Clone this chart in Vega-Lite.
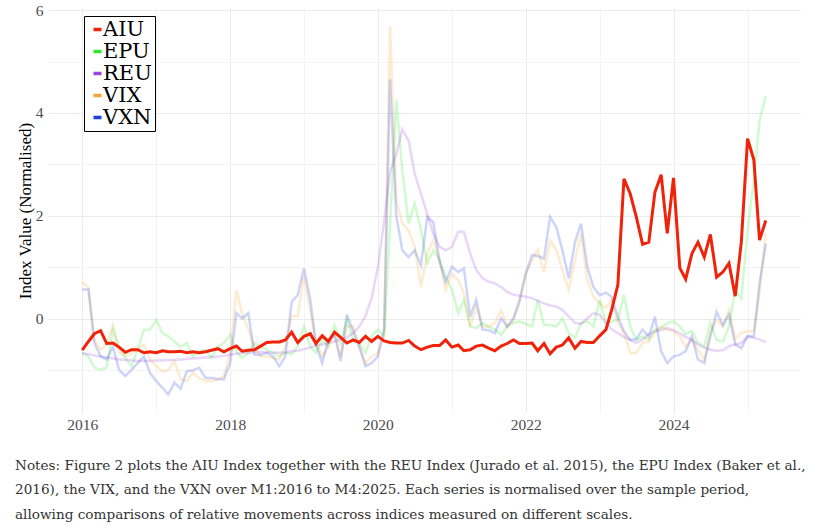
{
  "$schema": "https://vega.github.io/schema/vega-lite/v6.json",
  "width": 752,
  "height": 405,
  "autosize": "none",
  "padding": {"left": 48, "top": 8, "right": 21, "bottom": 118},
  "background": "white",
  "title": {
    "text": [
      "Notes: Figure 2 plots the AIU Index together with the REU Index (Jurado et al. 2015), the EPU Index (Baker et al.,",
      "2016), the VIX, and the VXN over M1:2016 to M4:2025. Each series is normalised over the sample period,",
      "allowing comparisons of relative movements across indices measured on different scales."
    ],
    "orient": "bottom",
    "anchor": "start",
    "frame": "group",
    "dx": -33,
    "offset": 26,
    "font": "DejaVu Serif",
    "fontSize": 13.6,
    "fontWeight": "normal",
    "color": "#333333",
    "lineHeight": 24.5
  },
  "data": {
    "values": [
      {"date": "2016-01-01", "AIU": -0.61, "EPU": -0.66, "REU": -0.67, "VIX": 0.72, "VXN": 0.57},
      {"date": "2016-02-01", "AIU": -0.44, "EPU": -0.73, "REU": -0.69, "VIX": 0.60, "VXN": 0.57},
      {"date": "2016-03-01", "AIU": -0.29, "EPU": -0.95, "REU": -0.71, "VIX": -0.41, "VXN": -0.47},
      {"date": "2016-04-01", "AIU": -0.23, "EPU": -0.99, "REU": -0.73, "VIX": -0.60, "VXN": -0.73},
      {"date": "2016-05-01", "AIU": -0.48, "EPU": -0.95, "REU": -0.75, "VIX": -0.50, "VXN": -0.79},
      {"date": "2016-06-01", "AIU": -0.47, "EPU": -0.21, "REU": -0.77, "VIX": -0.12, "VXN": -0.54},
      {"date": "2016-07-01", "AIU": -0.55, "EPU": -0.54, "REU": -0.79, "VIX": -0.64, "VXN": -0.99},
      {"date": "2016-08-01", "AIU": -0.65, "EPU": -0.76, "REU": -0.80, "VIX": -0.73, "VXN": -1.11},
      {"date": "2016-09-01", "AIU": -0.60, "EPU": -0.92, "REU": -0.81, "VIX": -0.67, "VXN": -0.99},
      {"date": "2016-10-01", "AIU": -0.60, "EPU": -0.60, "REU": -0.82, "VIX": -0.58, "VXN": -0.86},
      {"date": "2016-11-01", "AIU": -0.66, "EPU": -0.21, "REU": -0.82, "VIX": -0.50, "VXN": -0.73},
      {"date": "2016-12-01", "AIU": -0.64, "EPU": -0.21, "REU": -0.82, "VIX": -0.79, "VXN": -1.05},
      {"date": "2017-01-01", "AIU": -0.66, "EPU": -0.02, "REU": -0.81, "VIX": -0.92, "VXN": -1.21},
      {"date": "2017-02-01", "AIU": -0.62, "EPU": -0.28, "REU": -0.81, "VIX": -1.02, "VXN": -1.34},
      {"date": "2017-03-01", "AIU": -0.64, "EPU": -0.34, "REU": -0.80, "VIX": -1.00, "VXN": -1.47},
      {"date": "2017-04-01", "AIU": -0.64, "EPU": -0.44, "REU": -0.80, "VIX": -0.82, "VXN": -1.24},
      {"date": "2017-05-01", "AIU": -0.63, "EPU": -0.54, "REU": -0.79, "VIX": -1.17, "VXN": -1.36},
      {"date": "2017-06-01", "AIU": -0.66, "EPU": -0.47, "REU": -0.78, "VIX": -1.21, "VXN": -1.02},
      {"date": "2017-07-01", "AIU": -0.64, "EPU": -0.73, "REU": -0.77, "VIX": -1.05, "VXN": -1.00},
      {"date": "2017-08-01", "AIU": -0.66, "EPU": -0.63, "REU": -0.76, "VIX": -1.15, "VXN": -0.95},
      {"date": "2017-09-01", "AIU": -0.64, "EPU": -0.60, "REU": -0.75, "VIX": -1.21, "VXN": -1.15},
      {"date": "2017-10-01", "AIU": -0.61, "EPU": -0.76, "REU": -0.74, "VIX": -1.21, "VXN": -1.15},
      {"date": "2017-11-01", "AIU": -0.58, "EPU": -0.54, "REU": -0.73, "VIX": -1.18, "VXN": -1.17},
      {"date": "2017-12-01", "AIU": -0.64, "EPU": -0.47, "REU": -0.72, "VIX": -1.11, "VXN": -1.18},
      {"date": "2018-01-01", "AIU": -0.58, "EPU": -0.31, "REU": -0.70, "VIX": -0.64, "VXN": -0.86},
      {"date": "2018-02-01", "AIU": -0.53, "EPU": -0.64, "REU": -0.68, "VIX": 0.56, "VXN": 0.11},
      {"date": "2018-03-01", "AIU": -0.63, "EPU": -0.76, "REU": -0.67, "VIX": 0.11, "VXN": 0.01},
      {"date": "2018-04-01", "AIU": -0.61, "EPU": -0.66, "REU": -0.66, "VIX": -0.21, "VXN": 0.11},
      {"date": "2018-05-01", "AIU": -0.60, "EPU": -0.47, "REU": -0.65, "VIX": -0.54, "VXN": -0.70},
      {"date": "2018-06-01", "AIU": -0.53, "EPU": -0.54, "REU": -0.65, "VIX": -0.73, "VXN": -0.70},
      {"date": "2018-07-01", "AIU": -0.46, "EPU": -0.60, "REU": -0.65, "VIX": -0.73, "VXN": -0.66},
      {"date": "2018-08-01", "AIU": -0.45, "EPU": -0.66, "REU": -0.66, "VIX": -0.76, "VXN": -0.73},
      {"date": "2018-09-01", "AIU": -0.45, "EPU": -0.73, "REU": -0.66, "VIX": -0.79, "VXN": -0.92},
      {"date": "2018-10-01", "AIU": -0.41, "EPU": -0.66, "REU": -0.65, "VIX": -0.54, "VXN": -0.73},
      {"date": "2018-11-01", "AIU": -0.26, "EPU": -0.69, "REU": -0.63, "VIX": 0.05, "VXN": 0.33},
      {"date": "2018-12-01", "AIU": -0.46, "EPU": -0.54, "REU": -0.62, "VIX": 0.05, "VXN": 0.46},
      {"date": "2019-01-01", "AIU": -0.34, "EPU": -0.15, "REU": -0.59, "VIX": 0.82, "VXN": 0.98},
      {"date": "2019-02-01", "AIU": -0.29, "EPU": -0.54, "REU": -0.56, "VIX": 0.18, "VXN": 0.37},
      {"date": "2019-03-01", "AIU": -0.48, "EPU": -0.66, "REU": -0.52, "VIX": -0.47, "VXN": -0.50},
      {"date": "2019-04-01", "AIU": -0.33, "EPU": -0.41, "REU": -0.50, "VIX": -0.73, "VXN": -0.86},
      {"date": "2019-05-01", "AIU": -0.44, "EPU": -0.54, "REU": -0.47, "VIX": -0.54, "VXN": -0.41},
      {"date": "2019-06-01", "AIU": -0.26, "EPU": -0.12, "REU": -0.44, "VIX": -0.28, "VXN": -0.31},
      {"date": "2019-07-01", "AIU": -0.36, "EPU": -0.47, "REU": -0.40, "VIX": -0.73, "VXN": -0.82},
      {"date": "2019-08-01", "AIU": -0.47, "EPU": 0.00, "REU": -0.36, "VIX": -0.15, "VXN": 0.08},
      {"date": "2019-09-01", "AIU": -0.41, "EPU": -0.41, "REU": -0.28, "VIX": -0.15, "VXN": -0.24},
      {"date": "2019-10-01", "AIU": -0.46, "EPU": -0.47, "REU": -0.15, "VIX": -0.54, "VXN": -0.54},
      {"date": "2019-11-01", "AIU": -0.34, "EPU": -0.66, "REU": 0.05, "VIX": -0.86, "VXN": -0.92},
      {"date": "2019-12-01", "AIU": -0.44, "EPU": -0.34, "REU": 0.40, "VIX": -0.73, "VXN": -0.86},
      {"date": "2020-01-01", "AIU": -0.34, "EPU": -0.21, "REU": 1.00, "VIX": -0.67, "VXN": -0.73},
      {"date": "2020-02-01", "AIU": -0.43, "EPU": -0.34, "REU": 1.90, "VIX": -0.30, "VXN": -0.20},
      {"date": "2020-03-01", "AIU": -0.46, "EPU": 1.80, "REU": 2.85, "VIX": 5.68, "VXN": 4.65},
      {"date": "2020-04-01", "AIU": -0.47, "EPU": 4.26, "REU": 3.20, "VIX": 2.30, "VXN": 2.00},
      {"date": "2020-05-01", "AIU": -0.47, "EPU": 2.88, "REU": 3.68, "VIX": 1.85, "VXN": 1.33},
      {"date": "2020-06-01", "AIU": -0.42, "EPU": 1.85, "REU": 3.46, "VIX": 1.72, "VXN": 1.20},
      {"date": "2020-07-01", "AIU": -0.53, "EPU": 2.24, "REU": 2.82, "VIX": 1.40, "VXN": 1.33},
      {"date": "2020-08-01", "AIU": -0.60, "EPU": 1.72, "REU": 2.43, "VIX": 0.62, "VXN": 1.04},
      {"date": "2020-09-01", "AIU": -0.55, "EPU": 1.08, "REU": 2.04, "VIX": 1.27, "VXN": 1.98},
      {"date": "2020-10-01", "AIU": -0.52, "EPU": 1.33, "REU": 1.65, "VIX": 1.53, "VXN": 1.88},
      {"date": "2020-11-01", "AIU": -0.52, "EPU": 1.14, "REU": 1.40, "VIX": 1.14, "VXN": 1.11},
      {"date": "2020-12-01", "AIU": -0.41, "EPU": 0.82, "REU": 1.33, "VIX": 0.56, "VXN": 0.72},
      {"date": "2021-01-01", "AIU": -0.55, "EPU": 0.56, "REU": 1.40, "VIX": 0.88, "VXN": 1.01},
      {"date": "2021-02-01", "AIU": -0.51, "EPU": 0.11, "REU": 1.69, "VIX": 0.75, "VXN": 0.91},
      {"date": "2021-03-01", "AIU": -0.62, "EPU": 0.37, "REU": 1.69, "VIX": 0.50, "VXN": 0.98},
      {"date": "2021-04-01", "AIU": -0.60, "EPU": -0.15, "REU": 1.27, "VIX": -0.15, "VXN": 0.04},
      {"date": "2021-05-01", "AIU": -0.53, "EPU": -0.18, "REU": 0.95, "VIX": 0.24, "VXN": 0.37},
      {"date": "2021-06-01", "AIU": -0.51, "EPU": -0.08, "REU": 0.79, "VIX": -0.15, "VXN": -0.21},
      {"date": "2021-07-01", "AIU": -0.57, "EPU": -0.15, "REU": 0.72, "VIX": -0.15, "VXN": -0.22},
      {"date": "2021-08-01", "AIU": -0.62, "EPU": -0.21, "REU": 0.69, "VIX": -0.08, "VXN": -0.28},
      {"date": "2021-09-01", "AIU": -0.53, "EPU": -0.31, "REU": 0.62, "VIX": 0.17, "VXN": 0.01},
      {"date": "2021-10-01", "AIU": -0.48, "EPU": -0.15, "REU": 0.52, "VIX": -0.15, "VXN": -0.15},
      {"date": "2021-11-01", "AIU": -0.41, "EPU": -0.08, "REU": 0.47, "VIX": -0.02, "VXN": 0.01},
      {"date": "2021-12-01", "AIU": -0.48, "EPU": -0.05, "REU": 0.45, "VIX": 0.30, "VXN": 0.37},
      {"date": "2022-01-01", "AIU": -0.48, "EPU": -0.10, "REU": 0.43, "VIX": 0.88, "VXN": 0.88},
      {"date": "2022-02-01", "AIU": -0.47, "EPU": -0.15, "REU": 0.40, "VIX": 1.14, "VXN": 1.24},
      {"date": "2022-03-01", "AIU": -0.62, "EPU": 0.37, "REU": 0.35, "VIX": 1.35, "VXN": 1.22},
      {"date": "2022-04-01", "AIU": -0.48, "EPU": -0.12, "REU": 0.30, "VIX": 0.91, "VXN": 1.17},
      {"date": "2022-05-01", "AIU": -0.68, "EPU": -0.12, "REU": 0.26, "VIX": 1.53, "VXN": 1.98},
      {"date": "2022-06-01", "AIU": -0.55, "EPU": -0.15, "REU": 0.24, "VIX": 1.33, "VXN": 1.78},
      {"date": "2022-07-01", "AIU": -0.51, "EPU": 0.01, "REU": 0.17, "VIX": 0.95, "VXN": 1.33},
      {"date": "2022-08-01", "AIU": -0.37, "EPU": -0.28, "REU": 0.05, "VIX": 0.56, "VXN": 0.79},
      {"date": "2022-09-01", "AIU": -0.57, "EPU": -0.37, "REU": -0.08, "VIX": 1.14, "VXN": 1.49},
      {"date": "2022-10-01", "AIU": -0.44, "EPU": -0.08, "REU": -0.10, "VIX": 1.66, "VXN": 1.85},
      {"date": "2022-11-01", "AIU": -0.46, "EPU": -0.05, "REU": 0.01, "VIX": 0.75, "VXN": 1.01},
      {"date": "2022-12-01", "AIU": -0.46, "EPU": -0.15, "REU": 0.11, "VIX": 0.43, "VXN": 0.62},
      {"date": "2023-01-01", "AIU": -0.33, "EPU": 0.37, "REU": 0.08, "VIX": 0.30, "VXN": 0.46},
      {"date": "2023-02-01", "AIU": -0.21, "EPU": -0.08, "REU": -0.08, "VIX": 0.21, "VXN": 0.51},
      {"date": "2023-03-01", "AIU": 0.17, "EPU": -0.05, "REU": -0.20, "VIX": 0.37, "VXN": 0.43},
      {"date": "2023-04-01", "AIU": 0.66, "EPU": -0.02, "REU": -0.28, "VIX": -0.08, "VXN": 0.04},
      {"date": "2023-05-01", "AIU": 2.72, "EPU": 0.46, "REU": -0.35, "VIX": -0.27, "VXN": -0.24},
      {"date": "2023-06-01", "AIU": 2.43, "EPU": -0.15, "REU": -0.41, "VIX": -0.66, "VXN": -0.41},
      {"date": "2023-07-01", "AIU": 1.98, "EPU": -0.41, "REU": -0.47, "VIX": -0.66, "VXN": -0.39},
      {"date": "2023-08-01", "AIU": 1.45, "EPU": -0.34, "REU": -0.40, "VIX": -0.47, "VXN": -0.21},
      {"date": "2023-09-01", "AIU": 1.49, "EPU": -0.41, "REU": -0.30, "VIX": -0.44, "VXN": -0.34},
      {"date": "2023-10-01", "AIU": 2.46, "EPU": -0.21, "REU": -0.24, "VIX": -0.27, "VXN": 0.04},
      {"date": "2023-11-01", "AIU": 2.80, "EPU": -0.18, "REU": -0.22, "VIX": -0.15, "VXN": -0.63},
      {"date": "2023-12-01", "AIU": 1.66, "EPU": -0.08, "REU": -0.18, "VIX": -0.21, "VXN": -0.86},
      {"date": "2024-01-01", "AIU": 2.74, "EPU": -0.05, "REU": -0.22, "VIX": -0.24, "VXN": -0.73},
      {"date": "2024-02-01", "AIU": 0.99, "EPU": -0.15, "REU": -0.28, "VIX": -0.34, "VXN": -0.70},
      {"date": "2024-03-01", "AIU": 0.77, "EPU": -0.30, "REU": -0.35, "VIX": -0.54, "VXN": -0.63},
      {"date": "2024-04-01", "AIU": 1.27, "EPU": -0.24, "REU": -0.41, "VIX": -0.41, "VXN": -0.34},
      {"date": "2024-05-01", "AIU": 1.49, "EPU": -0.47, "REU": -0.50, "VIX": -0.60, "VXN": -0.79},
      {"date": "2024-06-01", "AIU": 1.20, "EPU": -0.53, "REU": -0.56, "VIX": -0.79, "VXN": -0.86},
      {"date": "2024-07-01", "AIU": 1.64, "EPU": -0.08, "REU": -0.60, "VIX": -0.27, "VXN": -0.34},
      {"date": "2024-08-01", "AIU": 0.81, "EPU": -0.41, "REU": -0.62, "VIX": -0.02, "VXN": 0.14},
      {"date": "2024-09-01", "AIU": 0.91, "EPU": -0.44, "REU": -0.61, "VIX": -0.15, "VXN": -0.12},
      {"date": "2024-10-01", "AIU": 1.08, "EPU": -0.15, "REU": -0.53, "VIX": 0.17, "VXN": 0.08},
      {"date": "2024-11-01", "AIU": 0.44, "EPU": 0.56, "REU": -0.50, "VIX": -0.39, "VXN": -0.50},
      {"date": "2024-12-01", "AIU": 1.49, "EPU": 0.40, "REU": -0.47, "VIX": -0.27, "VXN": -0.57},
      {"date": "2025-01-01", "AIU": 3.50, "EPU": 1.72, "REU": -0.34, "VIX": -0.24, "VXN": -0.34},
      {"date": "2025-02-01", "AIU": 3.09, "EPU": 2.69, "REU": -0.37, "VIX": -0.24, "VXN": -0.34},
      {"date": "2025-03-01", "AIU": 1.53, "EPU": 3.85, "REU": -0.40, "VIX": 0.50, "VXN": 0.69},
      {"date": "2025-04-01", "AIU": 1.91, "EPU": 4.33, "REU": -0.45, "VIX": 1.66, "VXN": 1.46}
    ]
  },
  "transform": [
    {"fold": ["AIU", "EPU", "REU", "VIX", "VXN"], "as": ["series", "value"]}
  ],
  "encoding": {
    "x": {
      "field": "date",
      "type": "temporal",
      "scale": {
        "type": "utc",
        "domain": [
          {"year": 2015, "month": 7, "date": 16, "utc": true},
          {"year": 2025, "month": 9, "date": 17, "utc": true}
        ]
      },
      "axis": {
        "title": null,
        "values": [
          {"year": 2016, "month": 1, "date": 1, "utc": true},
          {"year": 2017, "month": 1, "date": 1, "utc": true},
          {"year": 2018, "month": 1, "date": 1, "utc": true},
          {"year": 2019, "month": 1, "date": 1, "utc": true},
          {"year": 2020, "month": 1, "date": 1, "utc": true},
          {"year": 2021, "month": 1, "date": 1, "utc": true},
          {"year": 2022, "month": 1, "date": 1, "utc": true},
          {"year": 2023, "month": 1, "date": 1, "utc": true},
          {"year": 2024, "month": 1, "date": 1, "utc": true},
          {"year": 2025, "month": 1, "date": 1, "utc": true}
        ],
        "format": "%Y",
        "labelExpr": "utcyear(datum.value) % 2 == 0 ? utcFormat(datum.value, '%Y') : ''",
        "gridColor": {"condition": {"test": "utcyear(datum.value) % 2 == 0", "value": "#ebebeb"}, "value": "#f4f4f4"},
        "labelPadding": 4
      }
    },
    "y": {
      "field": "value",
      "type": "quantitative",
      "scale": {"domain": [-1.83, 6.04], "nice": false, "zero": false},
      "axis": {
        "title": "Index Value (Normalised)",
        "values": [-1, 0, 1, 2, 3, 4, 5, 6],
        "labelExpr": "datum.value % 2 == 0 ? datum.label : ''",
        "gridColor": {"condition": {"test": "datum.value % 2 == 0", "value": "#ebebeb"}, "value": "#f4f4f4"},
        "labelPadding": 5,
        "titlePadding": 1
      }
    },
    "color": {
      "field": "series",
      "type": "nominal",
      "scale": {
        "domain": ["AIU", "EPU", "REU", "VIX", "VXN"],
        "range": ["#f0230a", "#2ee62e", "#9b45e4", "#f7a531", "#1f3fe0"]
      },
      "legend": {
        "title": null,
        "orient": "none",
        "legendX": 36,
        "legendY": 8,
        "strokeColor": "black",
        "fillColor": "white",
        "padding": 3,
        "symbolType": "stroke",
        "symbolSize": 64,
        "symbolStrokeWidth": 3.5,
        "labelFont": "DejaVu Serif",
        "labelFontSize": 21,
        "labelColor": "black",
        "labelOffset": -5,
        "rowPadding": 0
      }
    }
  },
  "layer": [
    {
      "transform": [{"filter": "datum.series !== 'AIU'"}],
      "mark": {"type": "line", "strokeWidth": 2.5, "strokeOpacity": 0.22}
    },
    {
      "transform": [{"filter": "datum.series === 'AIU'"}],
      "mark": {"type": "line", "strokeWidth": 3}
    }
  ],
  "config": {
    "view": {"stroke": null},
    "axis": {
      "domain": false,
      "ticks": false,
      "grid": true,
      "labelFont": "Liberation Serif",
      "labelFontSize": 15.5,
      "labelColor": "#4d4d4d",
      "titleFont": "Liberation Serif",
      "titleFontSize": 17,
      "titleFontWeight": "normal",
      "titleColor": "black"
    }
  }
}
